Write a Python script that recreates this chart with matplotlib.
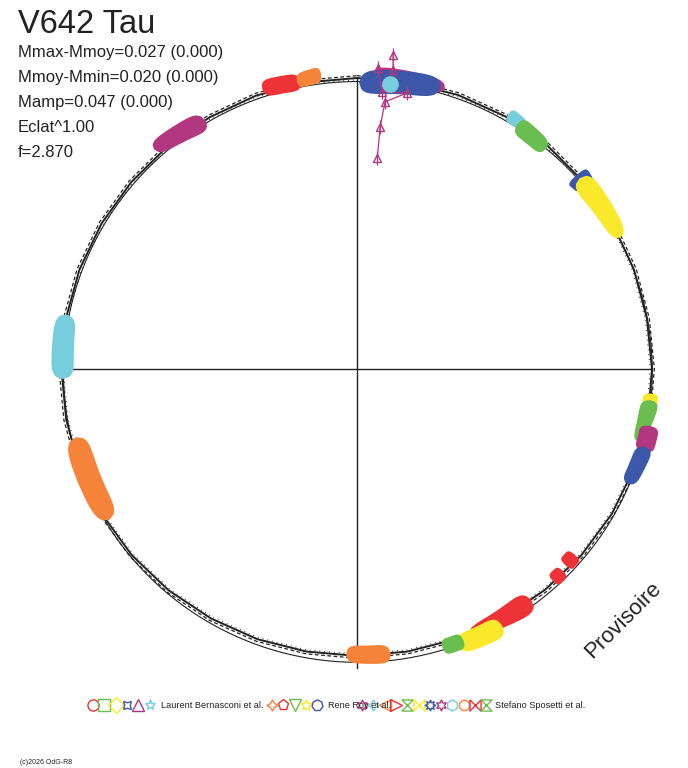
import numpy as np
import matplotlib.pyplot as plt
from matplotlib.patches import Polygon
from matplotlib.path import Path

plt.rcParams['font.family'] = ['Liberation Sans', 'DejaVu Sans']

RED = '#EE3338'
ORANGE = '#F5843A'
MAGENTA = '#B33680'
BLUE = '#3D58A8'
CYAN = '#76CEDC'
GREEN = '#6ABD4F'
YELLOW = '#F9E92A'
INK = '#222222'

title = "V642 Tau"
stats = ["Mmax-Mmoy=0.027 (0.000)", "Mmoy-Mmin=0.020 (0.000)",
         "Mamp=0.047 (0.000)", "Eclat^1.00", "f=2.870"]

# clusters of points: phase in degrees (clockwise from top), radius, width (start -> end)
clu_color = [MAGENTA, RED, ORANGE, MAGENTA, BLUE, CYAN, GREEN, BLUE, YELLOW,
             YELLOW, GREEN, MAGENTA, BLUE, RED, RED, RED, YELLOW, GREEN,
             ORANGE, ORANGE, CYAN]
clu_a0 = [-42.2, -18.3, -11.5, 3.0, 0.6, 30.5, 33.0, 48.3, 49.2,
          95.0, 96.3, 101.3, 105.5, 131.0, 135.0, 143.5, 151.0, 159.0,
          173.5, 238.5, 268.2]
clu_a1 = [-31.2, -11.1, -7.0, 17.0, 16.2, 34.0, 40.1, 51.0, 63.0,
          97.5, 104.5, 106.1, 113.1, 133.5, 137.5, 157.0, 160.0, 163.0,
          182.0, 256.0, 280.6]
clu_r0 = [1.020, 1.014, 1.010, 1.012, 0.984, 1.013, 1.000, 0.998, 0.999,
          1.000, 1.000, 1.012, 1.012, 0.976, 0.985, 0.990, 1.010, 1.000,
          0.985, 0.985, 0.997]
clu_r1 = [0.996, 1.005, 1.019, 1.010, 1.006, 1.010, 0.990, 0.998, 1.000,
          1.000, 0.985, 1.012, 1.000, 0.976, 0.985, 0.985, 1.008, 1.000,
          0.980, 0.981, 1.002]
clu_w0 = [0.050, 0.055, 0.045, 0.055, 0.080, 0.045, 0.060, 0.080, 0.075,
          0.045, 0.060, 0.060, 0.055, 0.050, 0.045, 0.080, 0.070, 0.050,
          0.060, 0.072, 0.072]
clu_w1 = [0.068, 0.055, 0.050, 0.045, 0.070, 0.035, 0.050, 0.065, 0.050,
          0.045, 0.035, 0.060, 0.045, 0.050, 0.045, 0.035, 0.062, 0.050,
          0.055, 0.078, 0.066]

# outliers (magenta triangles near the top)
out_a = [6.45, 6.8, 3.9, 5.1, 10.1, 5.9, 5.4, 5.4]
out_r = [1.086, 1.035, 1.037, 0.956, 0.963, 0.923, 0.835, 0.728]

# large cyan point at the top
big_a = 6.5
big_r = 0.985

# mean curve radius every 10 degrees
curve_a = np.arange(0, 360, 10)
curve_r = [1.0, 1.0, 1.002, 1.003, 1.003, 1.002, 1.0, 0.999, 0.998, 1.0, 1.001, 1.0,
           0.997, 0.994, 0.991, 0.989, 0.987, 0.986, 0.986, 0.986, 0.988, 0.99, 0.993, 0.996,
           0.998, 1.0, 1.001, 1.002, 1.002, 1.001, 1.0, 0.999, 0.999, 0.999, 1.0, 1.0]

# legend
hourglass = Path([(-1, 1), (1, 1), (-1, -1), (1, -1), (-1, 1)])
bowtie = Path([(-1, 1), (-1, -1), (1, 1), (1, -1), (-1, 1)])
leg_names = ["Laurent Bernasconi et al.", "Rene Roy et al.", "Stefano Sposetti et al."]
leg_markers = [['o', 's', 'D', (4, 1, 45), '^', '*'],
               [(4, 1, 0), 'p', 'v', (5, 1, 0), (7, 0, 0)],
               [(6, 1, 0), (4, 1, 0), '<', '>', hourglass, bowtie, (8, 1, 0), (6, 1, 0),
                'h', '8', bowtie, hourglass]]
leg_colors = [[RED, GREEN, YELLOW, BLUE, MAGENTA, CYAN],
              [ORANGE, RED, GREEN, YELLOW, BLUE],
              [MAGENTA, CYAN, ORANGE, RED, GREEN, YELLOW, BLUE, MAGENTA, CYAN, ORANGE, RED, GREEN]]


def polar(a, r):
    a = np.radians(np.asarray(a, dtype=float))
    return np.asarray(r) * np.sin(a), np.asarray(r) * np.cos(a)


W, H = 688, 768
CX, CY, RX, RY = 357, 369, 295, 291

fig = plt.figure(figsize=(W / 100, H / 100), dpi=100)
ax = fig.add_axes([0, 0, 1, 1])
ax.set_xlim(-CX / RX, (W - CX) / RX)
ax.set_ylim(-(H - CY) / RY, CY / RY)
ax.axis('off')


def px(x, y):
    return (x - CX) / RX, (CY - y) / RY


# axes cross
ax.plot([-1, 1], [0, 0], color=INK, lw=1, zorder=2)
ax.plot([0, 0], [-1.027, 1.0], color=INK, lw=1, zorder=2)

# reference circle and mean curve
t = np.linspace(0, 2 * np.pi, 400)
ax.plot(0.003 + 0.998 * np.sin(t), -0.01 + 0.998 * np.cos(t), color=INK, lw=0.8, zorder=2)
ca = np.append(curve_a, 360)
cr = np.append(curve_r, curve_r[0])
cx, cy = polar(ca, cr)
ax.plot(cx, cy, color=INK, lw=1.4, zorder=2)
cx2, cy2 = polar(ca, cr + 0.008)
ax.plot(cx2, cy2, color=INK, lw=0.9, dashes=(3, 2), zorder=2)
cx3, cy3 = polar(ca, cr - 0.006)
ax.plot(cx3, cy3, color=INK, lw=0.7, dashes=(1, 4), zorder=2)

# clusters
for col, a0, a1, r0, r1, w0, w1 in zip(clu_color, clu_a0, clu_a1, clu_r0, clu_r1, clu_w0, clu_w1):
    s = np.linspace(0, 1, 40)
    a = a0 + (a1 - a0) * s
    r = r0 + (r1 - r0) * s
    w = (w0 + (w1 - w0) * s) * np.sqrt(1 - (2 * s - 1) ** 6)
    ox, oy = polar(a, r + w / 2)
    ix, iy = polar(a, r - w / 2)
    pts = np.column_stack([np.concatenate([ox, ix[::-1]]), np.concatenate([oy, iy[::-1]])])
    ax.add_patch(Polygon(pts, closed=True, facecolor=col, edgecolor=col, lw=1.2, zorder=3))

bx, by = polar(big_a, big_r)
ax.plot(bx, by, 'o', color=CYAN, ms=11, zorder=5)

ox, oy = polar(out_a, out_r)
ax.errorbar(ox, oy, yerr=0.025, fmt='^-', color=MAGENTA, mfc='none',
            ms=6, lw=0.9, elinewidth=0.9, zorder=4)

# texts
fig.text(18 / W, 1 - 33 / H, title, fontsize=23.5, color=INK, va='baseline')
for i, s_ in enumerate(stats):
    fig.text(18 / W, 1 - (57 + 25 * i) / H, s_, fontsize=12, color=INK, va='baseline')

fig.text(623 / W, 1 - 620 / H, "Provisoire", fontsize=16, color=INK, rotation=45,
         ha='center', va='center')
fig.text(20 / W, 1 - 764 / H, "(c)2026 OdG-R8", fontsize=5, color=INK, va='baseline')

# legend row
mk_start = [93, 272, 362]
txt_x = [161, 328, 495]
for g in range(3):
    for k, (m, c) in enumerate(zip(leg_markers[g], leg_colors[g])):
        lx, ly = px(mk_start[g] + 11.3 * k, 705)
        ax.plot(lx, ly, marker=m, color=c, mfc='none', mew=1, ms=8, zorder=6, clip_on=False)
    fig.text(txt_x[g] / W, 1 - 705 / H, leg_names[g], fontsize=6.6, color=INK, va='center')

fig.savefig("out.png", dpi=100)
